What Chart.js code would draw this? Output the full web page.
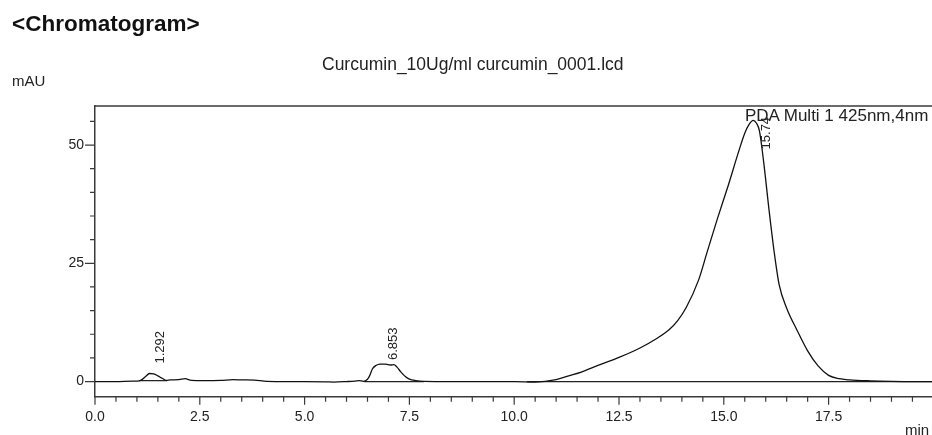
<!DOCTYPE html>
<html>
<head>
<meta charset="utf-8">
<script src="https://cdn.jsdelivr.net/npm/chart.js@4.4.0/dist/chart.umd.min.js"></script>
<style>
  html, body { margin: 0; padding: 0; overflow: hidden; background: #fff; width: 932px; height: 435px; }
  #wrap { position: relative; width: 950px; height: 435px; }
  .txt { position: absolute; font-family: "Liberation Sans", Arial, sans-serif; color: #222; white-space: nowrap; line-height: 1; }
</style>
</head>
<body>
<div id="wrap">
  <canvas id="chart" width="950" height="435"></canvas>
  <div class="txt" style="left:12px;top:13px;font-size:22.5px;font-weight:bold;color:#111">&lt;Chromatogram&gt;</div>
  <div class="txt" style="left:12px;top:73px;font-size:15px">mAU</div>
  <div class="txt" style="left:322px;top:56px;font-size:17.5px">Curcumin_10Ug/ml curcumin_0001.lcd</div>
  <div class="txt" style="left:745px;top:107px;font-size:17px">PDA Multi 1 425nm,4nm</div>
  <div class="txt" style="left:905px;top:422px;font-size:15px">min</div>
</div>
<script>
// ---------------------------------------------------------------
// Chromatogram data (time in min, signal mAU)
// ---------------------------------------------------------------
const times = [0, 0.5, 0.9, 1.0, 1.1, 1.2, 1.3, 1.4, 1.5, 1.6, 1.7, 1.8, 2.0, 2.15, 2.3, 2.6, 3.0, 3.3, 3.5, 3.8,
  4.1, 4.6, 5.0, 5.5, 5.7, 6.0, 6.2, 6.3, 6.4, 6.5, 6.55, 6.62, 6.7, 6.8, 6.93, 7.05, 7.13, 7.2, 7.3, 7.41,
  7.5, 7.65, 7.85, 8.5, 9.0, 9.5, 10.0, 10.5, 11.0, 11.3, 11.6, 12.0, 12.5, 13.0, 13.4, 13.7, 13.9, 14.1,
  14.4, 14.6, 14.85, 15.1, 15.35, 15.5, 15.6, 15.7, 15.78, 15.85, 15.95, 16.08, 16.2, 16.32, 16.5, 16.75,
  17.0, 17.25, 17.5, 17.75, 18.0, 18.5, 19.0, 19.5, 20.0];
const signal = [0, 0, 0.1, 0.1, 0.3, 1.0, 1.7, 1.6, 1.2, 0.7, 0.25, 0.35, 0.4, 0.6, 0.25, 0.2, 0.25, 0.4, 0.35, 0.3,
  0.05, 0, 0, -0.05, -0.1, 0, 0.1, 0.2, 0.05, 0.5, 1.2, 2.7, 3.4, 3.7, 3.7, 3.5, 3.6, 3.1, 2.0, 1.0,
  0.5, 0.2, 0.05, 0, 0, 0, 0, -0.1, 0.4, 1.2, 2.0, 3.4, 5.1, 7.1, 9.1, 11.0, 12.9, 15.6,
  21.5, 27.3, 34.5, 41.3, 48.5, 52.5, 54.3, 55.2, 54.6, 53.0, 46.5, 36.2, 27.5, 20.5, 15.5, 10.8,
  6.5, 3.3, 1.3, 0.6, 0.35, 0.15, 0.05, 0, 0];

// integration baselines drawn under each peak
const baseStart = [1.05, 6.42, 10.3];
const baseEnd = [1.72, 7.85, 20.0];
const baseLevel = [0.2, 0.0, 0.0];

// peak annotations
const peakTimes = [1.292, 6.853, 15.74];
const peakHeights = [1.7, 3.7, 55.2];
const peakLabels = ['1.292', '6.853', '15.74'];

// axes
const xTickLabels = [0, 2.5, 5, 7.5, 10, 12.5, 15, 17.5];
const xMinorTicks = [0.5, 1, 1.5, 2, 3, 3.5, 4, 4.5, 5.5, 6, 6.5, 7, 8, 8.5, 9, 9.5, 10.5, 11, 11.5, 12,
  13, 13.5, 14, 14.5, 15.5, 16, 16.5, 17, 18, 18.5, 19, 19.5];
const yTickLabels = [0, 25, 50];
const yMinorTicks = [5, 10, 15, 20, 30, 35, 40, 45, 55];

const AXIS_COLOR = '#3a3a3a';
const TEXT_COLOR = '#222';
const FONT = '"Liberation Sans", Arial, sans-serif';

const signalPoints = times.map((t, i) => ({ x: t, y: signal[i] }));
const baselineSets = baseStart.map((s, i) => ({
  data: [{ x: s, y: baseLevel[i] }, { x: baseEnd[i], y: baseLevel[i] }],
  borderColor: '#222', borderWidth: 1.2, pointRadius: 0, tension: 0
}));

// tick marks, top frame line and rotated peak labels
const decorPlugin = {
  id: 'decor',
  afterDraw(chart) {
    const { ctx, chartArea, scales } = chart;
    const xs = scales.x, ys = scales.y;
    ctx.save();
    ctx.strokeStyle = AXIS_COLOR;
    ctx.lineWidth = 1.5;
    ctx.beginPath();
    ctx.moveTo(chartArea.left, chartArea.top);
    ctx.lineTo(chartArea.right + 20, chartArea.top);
    ctx.stroke();

    ctx.lineWidth = 1.2;
    ctx.beginPath();
    xTickLabels.forEach(v => { const p = xs.getPixelForValue(v); ctx.moveTo(p, chartArea.bottom); ctx.lineTo(p, chartArea.bottom + 8); });
    xMinorTicks.forEach(v => { const p = xs.getPixelForValue(v); ctx.moveTo(p, chartArea.bottom); ctx.lineTo(p, chartArea.bottom + 5); });
    yTickLabels.forEach(v => { const p = ys.getPixelForValue(v); ctx.moveTo(chartArea.left, p); ctx.lineTo(chartArea.left - 10, p); });
    yMinorTicks.forEach(v => { const p = ys.getPixelForValue(v); ctx.moveTo(chartArea.left, p); ctx.lineTo(chartArea.left - 5, p); });
    ctx.stroke();

    // retention time labels, reading bottom to top
    const shift = [-10, -4, 29];
    ctx.fillStyle = TEXT_COLOR;
    ctx.font = '13px ' + FONT;
    ctx.textAlign = 'left';
    ctx.textBaseline = 'top';
    peakTimes.forEach((t, i) => {
      const px = xs.getPixelForValue(t) + 5;
      const py = ys.getPixelForValue(peakHeights[i]) + shift[i];
      ctx.save();
      ctx.translate(px, py);
      ctx.rotate(-Math.PI / 2);
      ctx.fillText(peakLabels[i], 0, 0);
      ctx.restore();
    });
    ctx.restore();
  }
};

new Chart(document.getElementById('chart'), {
  type: 'line',
  data: {
    datasets: [
      { data: signalPoints, borderColor: '#111', borderWidth: 1.3, pointRadius: 0, cubicInterpolationMode: 'monotone' },
      ...baselineSets
    ]
  },
  options: {
    responsive: false,
    animation: false,
    parsing: false,
    layout: { padding: { top: 106, right: 16.6, left: 0, bottom: 0 } },
    plugins: { legend: { display: false }, tooltip: { enabled: false } },
    scales: {
      x: {
        type: 'linear', min: 0, max: 20,
        afterFit: s => { s.height = 38.3; },
        afterBuildTicks: s => { s.ticks = xTickLabels.map(v => ({ value: v })); },
        grid: { display: false, drawTicks: false },
        border: { display: true, color: AXIS_COLOR, width: 1.5 },
        ticks: { color: TEXT_COLOR, font: { family: FONT, size: 14 }, padding: 12, maxRotation: 0, autoSkip: false,
          callback: v => v.toFixed(1) }
      },
      y: {
        type: 'linear', min: -3.2, max: 58.25,
        afterFit: s => { s.width = 95; },
        afterBuildTicks: s => { s.ticks = yTickLabels.map(v => ({ value: v })); },
        grid: { display: false, drawTicks: false },
        border: { display: true, color: AXIS_COLOR, width: 1.5 },
        ticks: { color: TEXT_COLOR, font: { family: FONT, size: 14 }, padding: 11, callback: v => String(v) }
      }
    }
  },
  plugins: [decorPlugin]
});
</script>
</body>
</html>
